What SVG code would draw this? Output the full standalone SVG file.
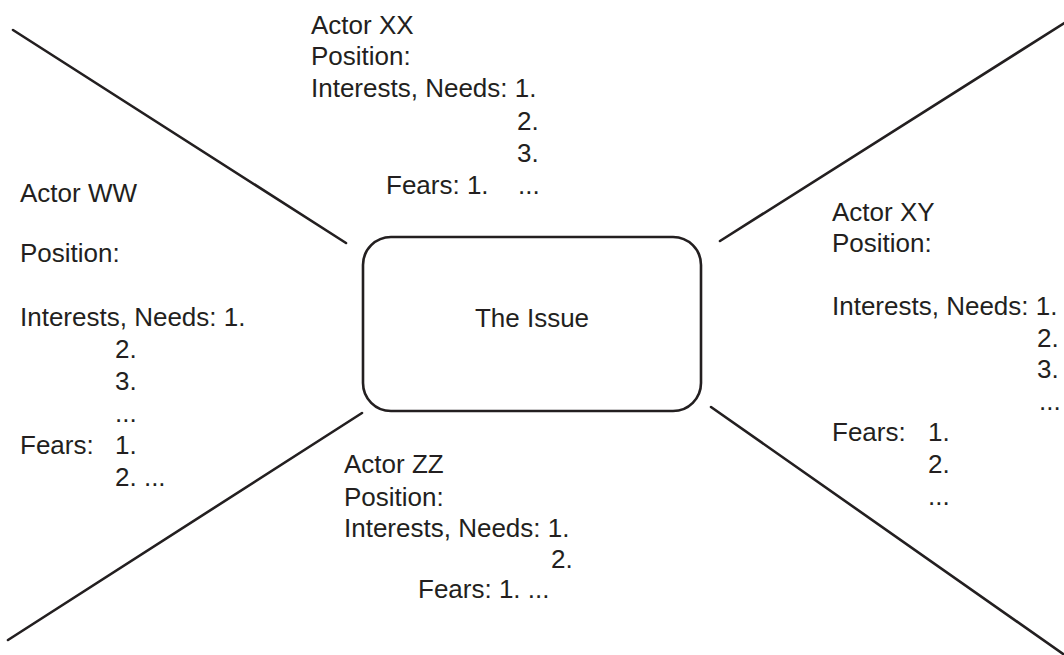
<svg xmlns="http://www.w3.org/2000/svg" width="1064" height="655" viewBox="0 0 1064 655">
<style>
  text { font-family: "Liberation Sans", Arial, sans-serif; font-size: 26px; fill: #231f20; }
  .ln { stroke: #231f20; stroke-width: 2.6; fill: none; stroke-linecap: round; }
  .box { stroke: #231f20; stroke-width: 2.6; fill: #ffffff; }
</style>
<rect width="1064" height="655" fill="#ffffff"/>
<g id="connectors">
  <line class="ln" x1="13" y1="30" x2="346" y2="243"/>
  <line class="ln" x1="720" y1="241" x2="1066" y2="22"/>
  <line class="ln" x1="362" y1="413" x2="8" y2="640"/>
  <line class="ln" x1="711" y1="407" x2="1066" y2="656"/>
</g>
<g id="issue">
  <rect class="box" x="363" y="237" width="338" height="174" rx="28" ry="28"/>
  <text x="532" y="327" text-anchor="middle">The Issue</text>
</g>
<g id="actor-xx">
  <text x="311" y="34">Actor XX</text>
  <text x="311" y="65">Position:</text>
  <text x="311" y="97">Interests, Needs: 1.</text>
  <text x="517" y="130">2.</text>
  <text x="517" y="162">3.</text>
  <text x="386" y="194">Fears: 1.</text>
  <text x="518" y="194">...</text>
</g>
<g id="actor-ww">
  <text x="20" y="202">Actor WW</text>
  <text x="20" y="262">Position:</text>
  <text x="20" y="326">Interests, Needs: 1.</text>
  <text x="115" y="358">2.</text>
  <text x="115" y="390">3.</text>
  <text x="115" y="422">...</text>
  <text x="20" y="454">Fears:</text>
  <text x="115" y="454">1.</text>
  <text x="115" y="486">2. ...</text>
</g>
<g id="actor-xy">
  <text x="832" y="221">Actor XY</text>
  <text x="832" y="252">Position:</text>
  <text x="832" y="315">Interests, Needs: 1.</text>
  <text x="1037" y="347">2.</text>
  <text x="1037" y="378">3.</text>
  <text x="1039" y="410">...</text>
  <text x="832" y="441">Fears:</text>
  <text x="928" y="441">1.</text>
  <text x="928" y="473">2.</text>
  <text x="928" y="505">...</text>
</g>
<g id="actor-zz">
  <text x="344" y="473">Actor ZZ</text>
  <text x="344" y="506">Position:</text>
  <text x="344" y="537">Interests, Needs: 1.</text>
  <text x="551" y="568">2.</text>
  <text x="418" y="598">Fears: 1. ...</text>
</g>
</svg>
